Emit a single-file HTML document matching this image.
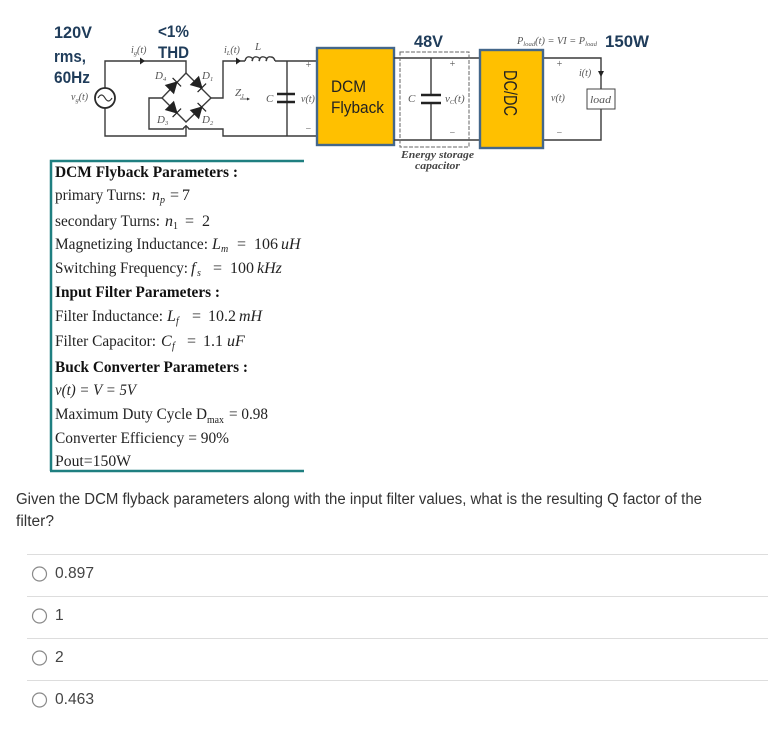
<!DOCTYPE html>
<html><head><meta charset="utf-8"><style>
html,body{margin:0;padding:0;background:#fff}
svg{display:block}
.soft{filter:blur(.35px)}
.h{font-family:"Liberation Sans",sans-serif;font-weight:700;fill:#1f3c5a;font-size:16.500px}
.m{font-family:"Liberation Serif",serif;font-style:italic;fill:#555;font-size:10px}
.n{font-size:11px}
.u{font-size:6.500px}
.p{font-family:"Liberation Serif",serif;font-size:16px;fill:#222}
.b{font-weight:700;fill:#111}
.i{font-style:italic}
.s{font-size:10px}
.q{font-family:"Liberation Sans",sans-serif;font-size:15.500px;fill:#333}
.o{font-family:"Liberation Sans",sans-serif;font-size:15.600px;fill:#444}
.k{fill:none;stroke:#3a3a3a;stroke-width:1.400}
.bl{font-family:"Liberation Sans",sans-serif;font-size:16.500px;fill:#222}
</style></head><body>
<svg width="768" height="734" viewBox="0 0 768 734" xmlns="http://www.w3.org/2000/svg">
<rect width="768" height="734" fill="#fff"/>
<g class="soft">
<text class="h" x="54" y="38" textLength="38" lengthAdjust="spacingAndGlyphs">120V</text>
<text class="h" x="54" y="62" textLength="32" lengthAdjust="spacingAndGlyphs">rms,</text>
<text class="h" x="54" y="83" textLength="36" lengthAdjust="spacingAndGlyphs">60Hz</text>
<text class="h" x="158" y="37" textLength="31" lengthAdjust="spacingAndGlyphs">&lt;1%</text>
<text class="h" x="158" y="58" textLength="31" lengthAdjust="spacingAndGlyphs">THD</text>

<path class="k" d="M105 88V61H186V73M105 108V136H186V125M162 98H149V129H183Q186 124 189 129H223V136H317M211 98H223V61H245M275 61H317M287 61V136"/>
<path class="k" d="M186 73L162 98L186 122L211 98Z"/>
<path class="k" d="M245 61q1-5 5-4q4 1 2 4q1-5 5-4q4 1 2 4q1-5 5-4q4 1 2 4q1-5 5-4q3 0 4 4"/>
<path d="M277 94H295M277 102H295" stroke="#222" stroke-width="2.400"/>
<circle cx="105" cy="98" r="10" fill="#fff" stroke="#2a2a2a" stroke-width="1.800"/>
<path d="M98 98q3.500-6 7 0t7 0" fill="none" stroke="#333" stroke-width="1.200"/>
<path d="M140 57.500l5 3.500l-5 3.500ZM236 57.500l5 3.500l-5 3.500Z" fill="#222"/>
<g fill="#222" stroke="#222" stroke-width="1.200">
<path transform="translate(174 85) rotate(-45)" d="M-6-5.500L4 0L-6 5.500ZM4-6V6"/>
<path transform="translate(199 85) rotate(45)" d="M-6-5.500L4 0L-6 5.500ZM4-6V6"/>
<path transform="translate(174 110) rotate(45)" d="M-6-5.500L4 0L-6 5.500ZM4-6V6"/>
<path transform="translate(199 110) rotate(-45)" d="M-6-5.500L4 0L-6 5.500ZM4-6V6"/>
</g>
<text class="m n" x="155" y="79">D<tspan class="u" dy="2">4</tspan></text>
<text class="m n" x="202" y="79">D<tspan class="u" dy="2">1</tspan></text>
<text class="m n" x="157" y="123">D<tspan class="u" dy="2">3</tspan></text>
<text class="m n" x="202" y="123">D<tspan class="u" dy="2">2</tspan></text>
<text class="m" x="131" y="53">i<tspan class="u" dy="2">g</tspan><tspan dy="-2">(t)</tspan></text>
<text class="m" x="224" y="53">i<tspan class="u" dy="2">L</tspan><tspan dy="-2">(t)</tspan></text>
<text class="m" x="71" y="100">v<tspan class="u" dy="2">g</tspan><tspan dy="-2">(t)</tspan></text>
<text class="m n" x="255" y="50">L</text>
<text class="m n" x="235" y="96">Z<tspan class="u" dy="2">1</tspan></text>
<path d="M240 99h8" stroke="#444" stroke-width=".8"/><path d="M247 97.500l3 1.500l-3 1.500z" fill="#333"/>
<text class="m n" x="266" y="102">C</text>
<text class="m" x="301" y="102">v(t)</text>
<text class="m" x="305" y="68">+</text>
<text class="m" x="305" y="132">−</text>

<rect x="317" y="48" width="77" height="97" fill="#ffc000" stroke="#44678a" stroke-width="2.400"/>
<text class="bl" x="331" y="92" textLength="35" lengthAdjust="spacingAndGlyphs">DCM</text>
<text class="bl" x="331" y="113" textLength="53" lengthAdjust="spacingAndGlyphs">Flyback</text>
<path class="k" d="M394 58H480M394 140H480M431 58V95M431 103V140M543 58H601V89M601 109V140H543"/>
<rect x="400" y="52" width="69" height="95" fill="none" stroke="#666" stroke-width="1" stroke-dasharray="4 1.500"/>
<path d="M421 95H441M421 103H441" stroke="#222" stroke-width="2.400"/>
<text class="m n" x="408" y="102">C</text>
<text class="m n" x="445" y="102">v<tspan class="u" dy="2">C</tspan><tspan dy="-2">(t)</tspan></text>
<text class="m" x="449" y="67">+</text><text class="m" x="449" y="136">−</text>
<text class="h" x="414" y="47" textLength="29" lengthAdjust="spacingAndGlyphs">48V</text>
<text class="m n b" x="401" y="158" textLength="73" lengthAdjust="spacingAndGlyphs" style="fill:#444">Energy storage</text>
<text class="m n b" x="415" y="169" textLength="45" lengthAdjust="spacingAndGlyphs" style="fill:#444">capacitor</text>
<rect x="480" y="50" width="63" height="98" fill="#ffc000" stroke="#44678a" stroke-width="2.400"/>
<text class="bl" x="0" y="0" textLength="46" lengthAdjust="spacingAndGlyphs" transform="translate(504 70) rotate(90)" style="font-size:18px">DC/DC</text>
<text class="m" x="517" y="44" textLength="80" lengthAdjust="spacingAndGlyphs">P<tspan class="u" dy="2">load</tspan><tspan dy="-2">(t) = VI = P</tspan><tspan class="u" dy="2">load</tspan></text>
<text class="h" x="605" y="47" textLength="44" lengthAdjust="spacingAndGlyphs">150W</text>
<text class="m" x="556" y="67">+</text><text class="m" x="556" y="136">−</text>
<text class="m" x="551" y="101">v(t)</text>
<text class="m" x="579" y="76">i(t)</text>
<path d="M598 71h6l-3 6z" fill="#222"/>
<rect x="587" y="89" width="28" height="20" fill="#fff" stroke="#444" stroke-width="1"/>
<text class="m n" x="590" y="103" textLength="21" lengthAdjust="spacingAndGlyphs">load</text>
</g>

<g class="soft">
<path d="M51 471V161H304" fill="none" stroke="#1f7f80" stroke-width="2.500"/>
<path d="M50 471H304" stroke="#1f7f80" stroke-width="2.500"/>

<text class="p b" x="55" y="177" textLength="183" lengthAdjust="spacingAndGlyphs">DCM Flyback Parameters :</text>

<text class="p" x="55" y="200" textLength="91" lengthAdjust="spacingAndGlyphs">primary Turns:</text>
<text class="p i" x="152" y="200">n</text><text class="p i s" x="160" y="203">p</text><text class="p" x="170" y="200">=</text><text class="p" x="182" y="200">7</text>

<text class="p" x="55" y="226" textLength="105" lengthAdjust="spacingAndGlyphs">secondary Turns:</text>
<text class="p i" x="165" y="226">n</text><text class="p s" x="173" y="229">1</text><text class="p" x="185" y="226">=</text><text class="p" x="202" y="226">2</text>

<text class="p" x="55" y="249" textLength="153" lengthAdjust="spacingAndGlyphs">Magnetizing Inductance:</text>
<text class="p i" x="212" y="249">L</text><text class="p i s" x="221" y="252">m</text><text class="p" x="237" y="249">=</text><text class="p" x="254" y="249">106</text><text class="p i" x="281" y="249">uH</text>

<text class="p" x="55" y="273" textLength="133" lengthAdjust="spacingAndGlyphs">Switching Frequency:</text>
<text class="p i" x="191" y="273">f</text><text class="p i s" x="197" y="276">s</text><text class="p" x="213" y="273">=</text><text class="p" x="230" y="273">100</text><text class="p i" x="257" y="273">kHz</text>

<text class="p b" x="55" y="297" textLength="165" lengthAdjust="spacingAndGlyphs">Input Filter Parameters :</text>

<text class="p" x="55" y="321" textLength="108" lengthAdjust="spacingAndGlyphs">Filter Inductance:</text>
<text class="p i" x="167" y="321">L</text><text class="p i s" x="176" y="324">f</text><text class="p" x="192" y="321">=</text><text class="p" x="208" y="321">10.2</text><text class="p i" x="239" y="321">mH</text>

<text class="p" x="55" y="346" textLength="101" lengthAdjust="spacingAndGlyphs">Filter Capacitor:</text>
<text class="p i" x="161" y="346">C</text><text class="p i s" x="172" y="349">f</text><text class="p" x="187" y="346">=</text><text class="p" x="203" y="346">1.1</text><text class="p i" x="227" y="346">uF</text>

<text class="p b" x="55" y="372" textLength="193" lengthAdjust="spacingAndGlyphs">Buck Converter Parameters :</text>
<text class="p i" x="55" y="395" textLength="81" lengthAdjust="spacingAndGlyphs">v(t) = V = 5V</text>

<text class="p" x="55" y="419" textLength="152" lengthAdjust="spacingAndGlyphs">Maximum Duty Cycle D</text><text class="p s" x="207" y="423" textLength="17" lengthAdjust="spacingAndGlyphs">max</text><text class="p" x="229" y="419" textLength="39" lengthAdjust="spacingAndGlyphs">= 0.98</text>
<text class="p" x="55" y="443" textLength="174" lengthAdjust="spacingAndGlyphs">Converter Efficiency = 90%</text>
<text class="p" x="55" y="466" textLength="76" lengthAdjust="spacingAndGlyphs">Pout=150W</text>
</g>

<text class="q" x="16" y="504" textLength="686" lengthAdjust="spacingAndGlyphs">Given the DCM flyback parameters along with the input filter values, what is the resulting Q factor of the</text>
<text class="q" x="16" y="526" textLength="38" lengthAdjust="spacingAndGlyphs">filter?</text>

<g stroke="#ddd" stroke-width="1">
<path d="M27 554.500H768M27 596.500H768M27 638.500H768M27 680.500H768"/>
</g>
<g fill="#fff" stroke="#8a8a8a" stroke-width="1.200">
<circle cx="39.500" cy="574" r="7"/><circle cx="39.500" cy="616" r="7"/><circle cx="39.500" cy="658" r="7"/><circle cx="39.500" cy="700" r="7"/>
</g>
<text class="o" x="55" y="578">0.897</text>
<text class="o" x="55" y="620">1</text>
<text class="o" x="55" y="662">2</text>
<text class="o" x="55" y="704">0.463</text>
</svg>
</body></html>
